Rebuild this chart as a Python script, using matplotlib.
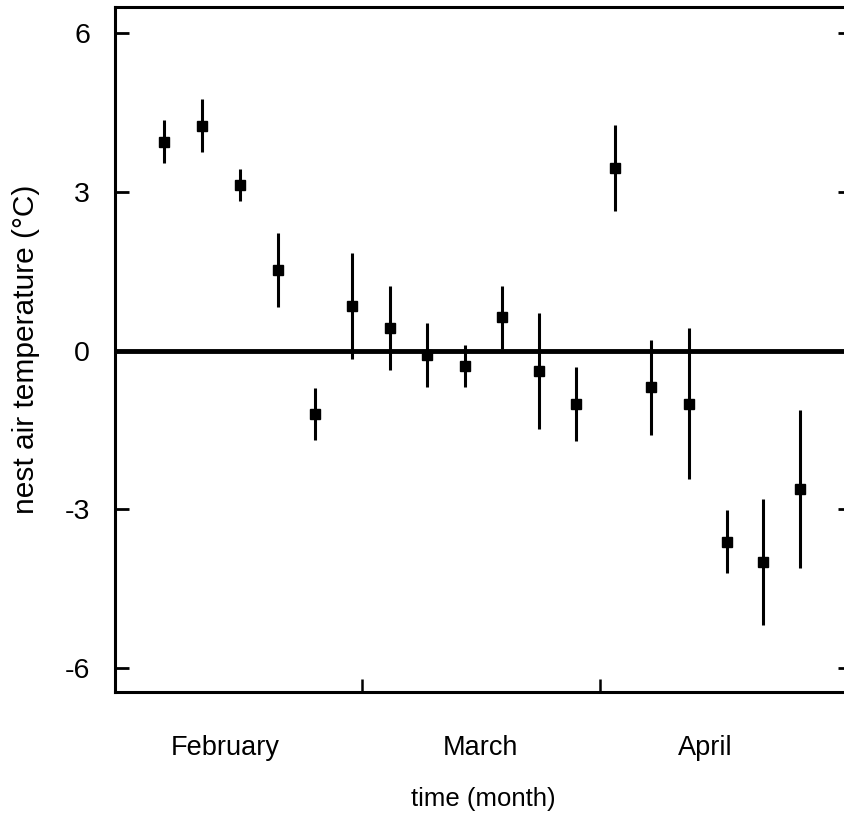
import matplotlib
matplotlib.use("Agg")
import matplotlib.pyplot as plt

# days since 1 February
days = [2.2, 7.2, 12.1, 17.0, 21.9, 26.7, 31.6, 36.5, 41.4,
        46.2, 51.1, 55.9, 60.9, 65.7, 70.6, 75.5, 80.3, 85.1]
temp = [3.95, 4.25, 3.13, 1.53, -1.19, 0.85, 0.43, -0.08, -0.29,
        0.63, -0.38, -1.0, 3.45, -0.69, -1.0, -3.61, -4.0, -2.62]
err = [0.4, 0.5, 0.3, 0.7, 0.49, 1.0, 0.8, 0.61, 0.4,
       0.6, 1.1, 0.7, 0.82, 0.9, 1.42, 0.6, 1.19, 1.49]

month_bounds = [28, 59]
month_names = ["February", "March", "April"]
month_centres = [10.2, 43.4, 72.7]
yticks = [-6, -3, 0, 3, 6]

plt.rcParams['font.family'] = ['Liberation Sans', 'DejaVu Sans']

fig = plt.figure(figsize=(8.45, 8.26), dpi=100)
ax = fig.add_axes([115 / 845, 1 - 692 / 826, 737 / 845, (692 - 6.7) / 826])

ax.axhline(0, color="black", lw=3.5, zorder=1)
ax.errorbar(days, temp, yerr=err, fmt="s", color="black", ms=7,
            elinewidth=2.2, capsize=0, zorder=3)

ax.set_xlim(-4.17, 91.83)
ax.set_ylim(-6.45, 6.5)

ax.set_yticks(yticks)
ax.set_yticklabels([str(v) for v in yticks])
ax.set_xticks(month_bounds)
ax.set_xticklabels([])
ax.set_xticks(month_centres, month_names, minor=True)

ax.tick_params(axis="y", which="major", direction="in", length=10, width=2,
               labelsize=20.5, pad=18, right=True)
ax.tick_params(axis="x", which="major", direction="in", length=9.5, width=1.8)
ax.tick_params(axis="x", which="minor", length=0, labelsize=19.5, pad=31)

for s in ax.spines.values():
    s.set_linewidth(2.2)

ax.set_ylabel("nest air temperature (°C)", fontsize=21.5, labelpad=18)
ax.set_xlabel("time (month)", fontsize=18.5, labelpad=19)

fig.savefig("out.png", dpi=100)
